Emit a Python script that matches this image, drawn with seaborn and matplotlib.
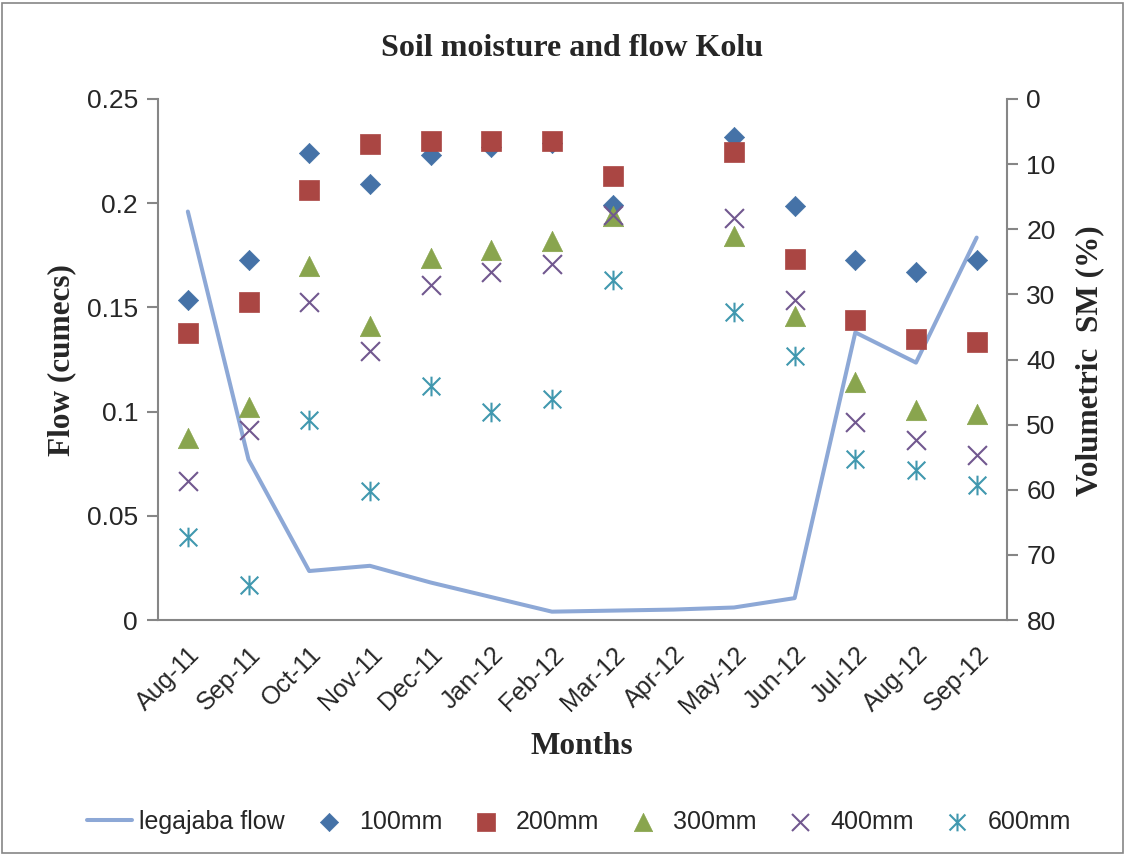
import numpy as np
import pandas as pd
import seaborn as sns
import matplotlib.pyplot as plt
from matplotlib.path import Path
from matplotlib.patches import Rectangle
from matplotlib.ticker import FixedLocator, FuncFormatter

# Style
sns.set_style("white")
plt.rcParams['font.family'] = ['Liberation Sans', 'DejaVu Sans']

# Data
months = ['Aug-11', 'Sep-11', 'Oct-11', 'Nov-11', 'Dec-11', 'Jan-12', 'Feb-12',
          'Mar-12', 'Apr-12', 'May-12', 'Jun-12', 'Jul-12', 'Aug-12', 'Sep-12']
flow = [0.196, 0.077, 0.0235, 0.026, 0.018, 0.011, 0.004,
        0.0045, 0.005, 0.006, 0.0105, 0.138, 0.1235, 0.1835]
sm_100 = [30.8, 24.7, 8.3, 13.1, 8.6, 7.3, 6.8, 16.3, np.nan, 5.8, 16.5, 24.7, 26.6, 24.7]
sm_200 = [35.9, 31.2, 14.0, 6.9, 6.5, 6.4, 6.5, 11.9, np.nan, 8.1, 24.5, 34.0, 36.9, 37.3]
sm_300 = [52.0, 47.3, 25.6, 34.8, 24.4, 23.2, 21.8, 18.0, np.nan, 21.0, 33.3, 43.5, 47.7, 48.4]
sm_400 = [58.6, 50.8, 31.2, 38.7, 28.5, 26.6, 25.4, 17.8, np.nan, 18.2, 30.9, 49.6, 52.3, 54.6]
sm_600 = [67.3, 74.6, 49.3, 60.2, 44.0, 48.1, 46.0, 27.8, np.nan, 32.7, 39.4, 55.3, 57.0, 59.2]
depths = ['100mm', '200mm', '300mm', '400mm', '600mm']

pos = np.arange(len(months))
df_flow = pd.DataFrame({'pos': pos, 'flow': flow})
df_sm = pd.DataFrame({'pos': pos, '100mm': sm_100, '200mm': sm_200, '300mm': sm_300,
                      '400mm': sm_400, '600mm': sm_600})

# asterisk marker like excel
star = Path([(0, -1), (0, 1), (-0.9, -0.9), (0.9, 0.9), (-0.9, 0.9), (0.9, -0.9)],
            [Path.MOVETO, Path.LINETO, Path.MOVETO, Path.LINETO, Path.MOVETO, Path.LINETO])

styles = {
    '100mm': dict(marker='D', color='#4572A7', s=106, edgecolor='#4572A7', linewidth=0.5),
    '200mm': dict(marker='s', color='#AA4643', s=205, edgecolor='#AA4643', linewidth=0.5),
    '300mm': dict(marker='^', color='#89A54E', s=215, edgecolor='#89A54E', linewidth=0.5),
    '400mm': dict(marker='x', color='#71588F', s=185, linewidth=1.5),
    '600mm': dict(marker=star, color='#4198AF', s=200, edgecolor='#4198AF', linewidth=1.5),
}

axis_grey = '#868686'
serif = ['Liberation Serif', 'DejaVu Serif']

fig = plt.figure(figsize=(11.26, 8.56), dpi=100)
ax = fig.add_axes([157.5 / 1126, 1 - 620 / 856, 849.5 / 1126, 521 / 856])

sns.lineplot(data=df_flow, x='pos', y='flow', ax=ax, color='#8DA8D6', linewidth=2.9,
             label='legajaba flow')

ax2 = ax.twinx()
for d in depths:
    sns.scatterplot(data=df_sm, x='pos', y=d, ax=ax2, label=d, **styles[d])

# Axes limits / ticks
ax.set_xlim(-0.5, len(months) - 0.5)
ax.set_ylim(0, 0.25)
ax2.set_ylim(80, 0)

ax.set_yticks([0, 0.05, 0.1, 0.15, 0.2, 0.25])
ax.yaxis.set_major_formatter(FuncFormatter(lambda v, p: '%g' % round(v, 2)))
ax2.set_yticks(np.arange(0, 81, 10))

ax.set_xticks(pos)
ax.set_xticklabels(months, rotation=45, ha='right', va='top', rotation_mode='anchor')
ax.xaxis.set_minor_locator(FixedLocator(np.arange(-0.5, len(months), 1)))
ax.tick_params(axis='x', which='major', length=0, labelsize=18, pad=16)
ax.tick_params(axis='x', which='minor', length=8, width=1.5, color=axis_grey, direction='out')
ax.tick_params(axis='y', length=8, width=1.5, color=axis_grey, direction='out', labelsize=19, pad=6)
ax2.tick_params(axis='y', length=8, width=1.5, color=axis_grey, direction='out', labelsize=19, pad=6)

for a in (ax, ax2):
    a.spines['top'].set_visible(False)
    for s in ('left', 'right', 'bottom'):
        a.spines[s].set_color(axis_grey)
        a.spines[s].set_linewidth(1.5)
ax.spines['right'].set_visible(False)
ax2.spines['left'].set_visible(False)
ax2.spines['bottom'].set_visible(False)

ax.set_xlabel('')
ax.set_ylabel('')
ax2.set_xlabel('')
ax2.set_ylabel('')

# Labels
fig.text(0.508, 1 - 48 / 856, 'Soil moisture and flow Kolu', ha='center', va='center',
         fontsize=23, fontweight='bold', family=serif)
fig.text(0.517, 1 - 747 / 856, 'Months', ha='center', va='center',
         fontsize=22.5, fontweight='bold', family=serif)
fig.text(62 / 1126, 1 - 360 / 856, 'Flow (cumecs)', ha='center', va='center', rotation=90,
         fontsize=22.5, fontweight='bold', family=serif)
fig.text(1090 / 1126, 1 - 361 / 856, 'Volumetric  SM (%)', ha='center', va='center', rotation=90,
         fontsize=22.5, fontweight='bold', family=serif)

# Legend
h1, l1 = ax.get_legend_handles_labels()
h2, l2 = ax2.get_legend_handles_labels()
ax.get_legend().remove()
ax2.get_legend().remove()
fig.legend(h1 + h2, l1 + l2, loc='center', bbox_to_anchor=(0.514, 1 - 822 / 856), ncol=6,
           frameon=False, fontsize=18, handlelength=1.8, handletextpad=0.3,
           columnspacing=0.85, markerscale=0.9)

# chart border
fig.patches.append(Rectangle((0.0015, 0.003), 0.996, 0.994, transform=fig.transFigure,
                             fill=False, edgecolor=axis_grey, linewidth=1.2))

fig.savefig('out.png', dpi=100)
